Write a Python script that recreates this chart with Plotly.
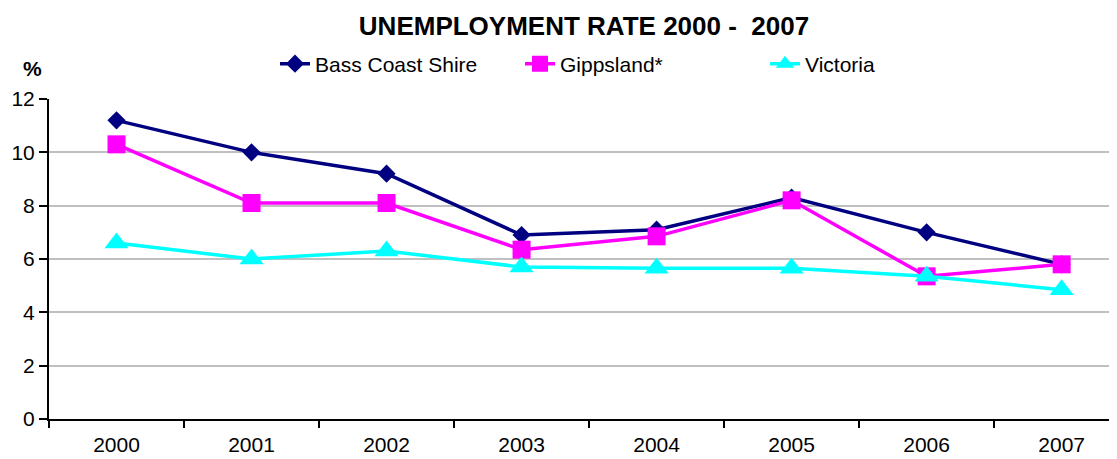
import plotly.graph_objects as go

years = ["2000", "2001", "2002", "2003", "2004", "2005", "2006", "2007"]
bass_coast = [11.2, 10.0, 9.2, 6.9, 7.1, 8.3, 7.0, 5.8]
gippsland = [10.3, 8.1, 8.1, 6.35, 6.85, 8.2, 5.35, 5.8]
victoria = [6.6, 6.0, 6.3, 5.7, 5.65, 5.65, 5.35, 4.85]

# page body has an 8px default margin; screen coords -> figure coords
OFF = 8
PL, PT, PW, PH = 49, 99, 1068, 320  # plot area in screen px


def px(sx):
    return (sx - PL) / PW


def py(sy):
    return 1 + (PT - sy) / PH


fig = go.Figure()
fig.add_trace(go.Scatter(x=years, y=bass_coast, name="Bass Coast Shire", mode="lines+markers",
                         line=dict(color="#000080", width=3.5),
                         marker=dict(symbol="diamond", size=14, color="#000080")))
fig.add_trace(go.Scatter(x=years, y=gippsland, name="Gippsland*", mode="lines+markers",
                         line=dict(color="#FF00FF", width=3.5),
                         marker=dict(symbol="square", size=18, color="#FF00FF")))
fig.add_trace(go.Scatter(x=years, y=victoria, name="Victoria", mode="lines+markers",
                         line=dict(color="#00FFFF", width=3.5),
                         marker=dict(symbol="triangle-up", size=21, color="#00FFFF")))

W, H = 1117 - OFF, 459 - OFF
fig.update_layout(
    width=W, height=H,
    margin=dict(l=PL - OFF, r=0, t=PT - OFF, b=H - (PT - OFF + PH)),
    paper_bgcolor="white", plot_bgcolor="white",
    font=dict(family="Arial, Liberation Sans, sans-serif", size=21, color="black"),
    title=dict(text="<b>UNEMPLOYMENT RATE 2000 - &nbsp;2007</b>", x=(584 - OFF) / W, xanchor="center",
               y=1 - (26 - OFF) / H, yanchor="middle", font=dict(size=26)),
    showlegend=True,
    legend=dict(orientation="h", x=px(275), xanchor="left",
                y=py(64), yanchor="middle",
                font=dict(size=21), entrywidth=200, bgcolor="rgba(0,0,0,0)"),
    xaxis=dict(type="category", range=[-0.5, 7.41], tickson="boundaries",
               ticks="outside", ticklen=7, tickcolor="black", tickwidth=1.5, showline=True,
               linecolor="black", linewidth=2, showgrid=False, tickfont=dict(size=21),
               ticklabelstandoff=6),
    yaxis=dict(range=[0, 12], dtick=2, ticks="outside", ticklen=8, tickcolor="black", tickwidth=1.5,
               showline=True, linecolor="black", linewidth=2, showgrid=True,
               gridcolor="#c0c0c0", gridwidth=2, zeroline=False, tickfont=dict(size=21)),
)
fig.add_annotation(text="<b>%</b>", x=px(21), y=py(55), xref="paper", yref="paper",
                   showarrow=False, font=dict(size=21))
fig.write_html("out.html")
